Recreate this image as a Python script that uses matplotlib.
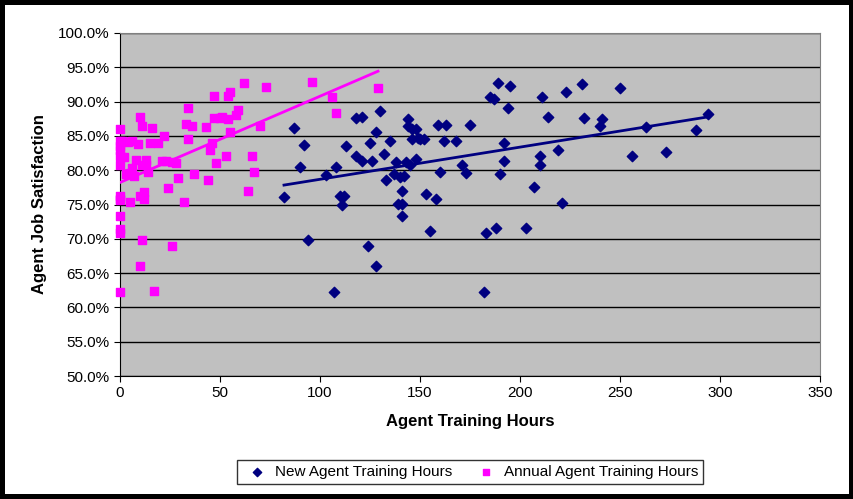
import numpy as np
import matplotlib.pyplot as plt
from matplotlib.ticker import FuncFormatter

plt.rcParams['font.family'] = ['Liberation Sans', 'DejaVu Sans']

# New Agent Training Hours (hours, satisfaction %)
new_x = [82, 87, 90, 92, 94, 103, 107, 108, 110, 111, 112, 113, 118, 118, 121, 121, 124, 125, 126, 128,
         128, 130, 132, 133, 135, 137, 138, 139, 140, 141, 141, 141, 142, 143, 144, 144, 145, 146, 146, 148,
         148, 149, 150, 152, 153, 155, 158, 159, 160, 162, 163, 168, 171, 173, 175, 183, 182, 185, 187, 188,
         189, 190, 192, 192, 194, 195, 203, 207, 210, 210, 211, 214, 219, 221, 223, 231, 232, 240, 241, 250,
         256, 263, 273, 288, 294]
new_y = [76.1, 86.2, 80.5, 83.7, 69.8, 79.3, 62.3, 80.4, 76.3, 74.9, 76.3, 83.6, 82.1, 87.6, 87.7, 81.3, 69.0, 84.0, 81.3, 66.1,
         85.5, 88.7, 82.4, 78.6, 84.2, 79.4, 81.2, 75.1, 79.0, 73.3, 77.0, 75.1, 79.2, 81.2, 86.5, 87.5, 80.8, 84.5, 86.0, 81.6,
         86.0, 84.7, 84.6, 84.6, 76.6, 71.1, 75.8, 86.6, 79.8, 84.2, 86.6, 84.2, 80.8, 79.6, 86.6, 70.9, 62.2, 90.6, 90.4, 71.6,
         92.7, 79.5, 81.3, 83.9, 89.0, 92.3, 71.6, 77.5, 82.0, 80.8, 90.7, 87.7, 83.0, 75.2, 91.4, 92.6, 87.6, 86.4, 87.5, 92.0,
         82.0, 86.3, 82.6, 85.9, 88.2]

# Annual Agent Training Hours
ann_x = [0, 0, 0, 0, 0, 0, 0, 0, 0, 0, 0, 0, 0, 1, 2, 3, 4, 5, 5, 6,
         6, 7, 8, 9, 10, 10, 10, 11, 11, 11, 12, 12, 13, 13, 14, 15, 16, 17, 19, 21,
         22, 23, 24, 26, 26, 28, 29, 32, 33, 34, 34, 36, 37, 43, 44, 45, 46, 47, 47, 48,
         50, 51, 53, 54, 54, 55, 55, 58, 59, 62, 64, 66, 67, 70, 73, 96, 106, 108, 129]
ann_y = [62.3, 71.5, 70.9, 73.3, 75.6, 76.3, 75.8, 80.7, 82.1, 83.6, 84.3, 86.0, 82.9, 84.2, 81.9, 79.4, 84.1, 79.6, 75.3, 80.3,
         84.3, 79.2, 81.5, 83.8, 87.8, 76.3, 66.1, 86.5, 80.8, 69.8, 76.8, 75.8, 81.5, 80.7, 79.8, 84.0, 86.1, 62.4, 83.9, 81.4,
         85.0, 81.3, 77.4, 69.0, 81.2, 81.0, 78.8, 75.3, 86.8, 89.0, 84.5, 86.5, 79.5, 86.3, 78.6, 82.9, 84.0, 87.6, 90.8, 81.0,
         87.6, 87.8, 82.0, 87.5, 90.8, 91.4, 85.5, 88.0, 88.8, 92.7, 77.0, 82.0, 79.8, 86.5, 92.2, 92.8, 90.6, 88.4, 92.0]

navy = '#000080'
pink = '#FF00FF'

fig = plt.figure(figsize=(8.54, 4.99), dpi=100, facecolor='black')
bg = fig.add_axes([0.006, 0.01, 0.988, 0.98])
bg.set_facecolor('white')
bg.set_xticks([])
bg.set_yticks([])
for s in bg.spines.values():
    s.set_visible(False)

ax = fig.add_axes([120 / 854, 1 - 376 / 499, 700 / 854, 343 / 499])
ax.set_facecolor('#C0C0C0')
ax.set_xlim(0, 350)
ax.set_ylim(50, 100)
ax.set_yticks(np.arange(50, 100.1, 5))
ax.set_xticks(np.arange(0, 351, 50))
ax.grid(axis='y', color='black', linewidth=1)
ax.set_axisbelow(True)
ax.yaxis.set_major_formatter(FuncFormatter(lambda v, p: f'{v:.1f}%'))
ax.tick_params(labelsize=11, direction='out', length=4)
for s in ['top', 'right']:
    ax.spines[s].set_color('#808080')

ax.scatter(new_x, new_y, marker='D', s=28, color=navy, label='New Agent Training Hours',
           zorder=3, clip_on=False)
ax.scatter(ann_x, ann_y, marker='s', s=38, color=pink, label='Annual Agent Training Hours',
           zorder=3, clip_on=False)

for xs, ys, c in [(new_x, new_y, navy), (ann_x, ann_y, pink)]:
    k, b = np.polyfit(xs, ys, 1)
    xx = np.array([min(xs), max(xs)])
    ax.plot(xx, k * xx + b, color=c, linewidth=2, zorder=4)

ax.set_xlabel('Agent Training Hours', fontsize=12, fontweight='bold', labelpad=10)
ax.set_ylabel('Agent Job Satisfaction', fontsize=12, fontweight='bold', labelpad=8)

leg = fig.legend(loc='center', bbox_to_anchor=(470 / 854, 1 - 472 / 499), ncol=2, fontsize=11,
                 frameon=True, fancybox=False, edgecolor='black', handletextpad=0.2, columnspacing=1.2,
                 borderpad=0.3, markerscale=0.8)

fig.savefig('out.png', dpi=100, facecolor='black')
